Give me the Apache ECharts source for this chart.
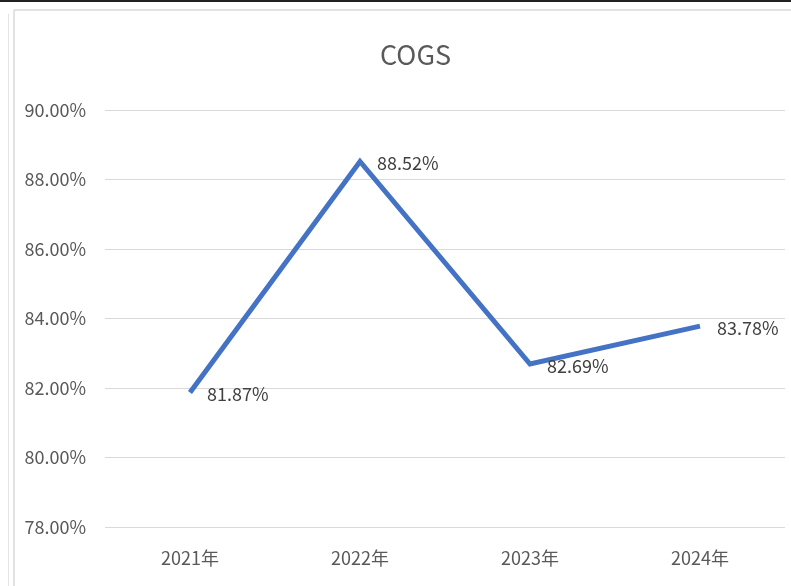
<!DOCTYPE html>
<html>
<head>
<meta charset="utf-8">
<script src="https://cdn.jsdelivr.net/npm/echarts@6/dist/echarts.min.js"></script>
<style>
html,body{margin:0;padding:0;background:#fff;}
#c{width:791px;height:586px;}
</style>
</head>
<body>
<div id="c"></div>
<script>
var categories = ['2021年', '2022年', '2023年', '2024年'];
var cogsValues = [81.87, 88.52, 82.69, 83.78];
var yMin = 78, yMax = 90, yStep = 2;
var titleText = 'COGS';

var FONT = '"Noto Sans CJK SC", sans-serif';
var chart = echarts.init(document.getElementById('c'));
chart.setOption({
  animation: false,
  backgroundColor: '#ffffff',
  title: {
    text: titleText,
    left: 375,
    top: 36,
    textStyle: {fontFamily: FONT, fontSize: 27, fontWeight: 'normal', color: '#595959'}
  },
  graphic: [
    {type: 'rect', shape: {x: 0, y: 0, width: 791, height: 2}, style: {fill: '#222'}},
    {type: 'line', shape: {x1: 14, y1: 10, x2: 791, y2: 10}, style: {stroke: '#d9d9d9', lineWidth: 1.5}},
    {type: 'line', shape: {x1: 14, y1: 10, x2: 14, y2: 586}, style: {stroke: '#d9d9d9', lineWidth: 1.5}},
    {type: 'line', shape: {x1: 8.5, y1: 14, x2: 8.5, y2: 586}, style: {stroke: '#e3e3e3', lineWidth: 1}}
  ],
  grid: {left: 105, right: 6, top: 110, bottom: 59, containLabel: false},
  xAxis: {
    type: 'category',
    data: categories,
    boundaryGap: true,
    axisLine: {show: false},
    axisTick: {show: false},
    axisLabel: {fontFamily: FONT, fontSize: 18, color: '#595959', margin: 22}
  },
  yAxis: {
    type: 'value',
    min: yMin,
    max: yMax,
    interval: yStep,
    axisLine: {show: false},
    axisTick: {show: false},
    splitLine: {lineStyle: {color: '#d9d9d9', width: 1}},
    axisLabel: {
      fontFamily: FONT, fontSize: 18, color: '#595959', margin: 19,
      formatter: function (v) { return v.toFixed(2) + '%'; }
    }
  },
  series: [{
    type: 'line',
    data: cogsValues,
    symbol: 'circle',
    symbolSize: 2,
    showSymbol: true,
    lineStyle: {color: '#4472C4', width: 5, join: 'miter'},
    itemStyle: {color: 'rgba(68,114,196,0)', borderWidth: 0},
    label: {
      show: true,
      position: 'right',
      distance: 16,
      offset: [0, 2],
      fontFamily: FONT, fontSize: 18, color: '#404040',
      formatter: function (p) { return p.value.toFixed(2) + '%'; }
    }
  }]
});
</script>
</body>
</html>
